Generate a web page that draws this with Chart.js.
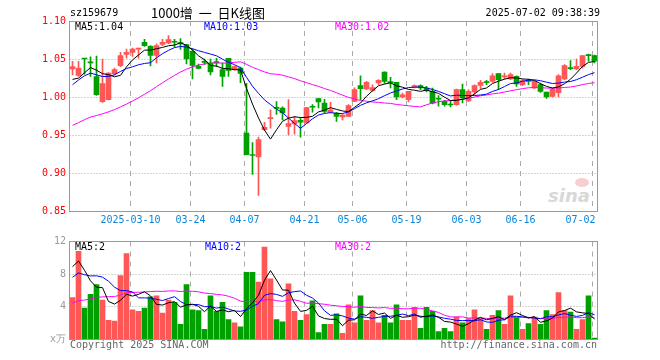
<!DOCTYPE html>
<html><head><meta charset="utf-8">
<script src="https://cdn.jsdelivr.net/npm/chart.js@4.4.1/dist/chart.umd.min.js"></script>
<style>
html,body{margin:0;padding:0;background:#fff;width:660px;height:360px;overflow:hidden}
#wrap{position:relative;width:660px;height:360px}
canvas{position:absolute;left:0}
#c1{top:0}
#c2{top:232px}
.t{position:absolute;font:10px 'DejaVu Sans Mono',monospace;line-height:12px;white-space:pre}
</style></head><body>
<div id="wrap">
<div class="t" style="left:548px;top:186px;font:italic bold 18px 'DejaVu Sans',sans-serif;color:#d8d8d8;line-height:20px">sina</div>
<div style="position:absolute;left:575px;top:178px;width:14px;height:9px;border-radius:50%;background:#f6d0d0"></div>
<canvas id="c1" width="660" height="232"></canvas>
<canvas id="c2" width="660" height="128"></canvas>
<div class="t" style="left:70px;top:7px;color:#000">sz159679</div>
<div class="t" style="left:151px;top:4px;font:13px 'Noto Sans CJK SC',sans-serif;line-height:18px;color:#000">1000增  一  日K线图</div>
<div class="t" style="right:60px;top:7px;color:#000">2025-07-02 09:38:39</div>
<div class="t" style="left:75px;top:21px;color:#000">MA5:1.04</div>
<div class="t" style="left:204px;top:21px;color:#0000ff">MA10:1.03</div>
<div class="t" style="left:335px;top:21px;color:#ff00ff">MA30:1.02</div>
<div class="t" style="left:75px;top:241px;color:#000">MA5:2</div>
<div class="t" style="left:205px;top:241px;color:#0000ff">MA10:2</div>
<div class="t" style="left:335px;top:241px;color:#ff00ff">MA30:2</div>
<div class="t" style="left:70px;top:339px;color:#666">Copyright 2025 SINA.COM</div>
<div class="t" style="right:63px;top:339px;color:#666">http://finance.sina.com.cn</div>
</div>
<script>
// ---- data ----
const dates = ['02-24','02-25','02-26','02-27','02-28',
 '03-03','03-04','03-05','03-06','03-07',
 '03-10','03-11','03-12','03-13','03-14',
 '03-17','03-18','03-19','03-20','03-21',
 '03-24','03-25','03-26','03-27','03-28',
 '03-31','04-01','04-02','04-03',
 '04-07','04-08','04-09','04-10','04-11',
 '04-14','04-15','04-16','04-17','04-18',
 '04-21','04-22','04-23','04-24','04-25',
 '04-28','04-29','04-30',
 '05-06','05-07','05-08','05-09',
 '05-12','05-13','05-14','05-15','05-16',
 '05-19','05-20','05-21','05-22','05-23',
 '05-26','05-27','05-28','05-29','05-30',
 '06-03','06-04','06-05','06-06',
 '06-09','06-10','06-11','06-12','06-13',
 '06-16','06-17','06-18','06-19','06-20',
 '06-23','06-24','06-25','06-26','06-27',
 '06-30','07-01','07-02'];
const open = [1.037,1.0285,1.051,1.046,1.027, 0.994,0.9965,1.0307,1.0412,1.0561,
 1.0588,1.063,1.072,1.0667,1.0548, 1.0693,1.0711,1.073,1.0715,1.069,
 1.060,1.0404,1.047,1.045,1.0465, 1.036,1.051,1.036,1.038,
 0.9526,0.924,0.921,0.957,0.9715, 0.986,0.9855,0.9614,0.9645,0.9693,
 0.966,0.987,0.9978,0.992,0.980, 0.9789,0.9737,0.9746,
 0.9943,1.0149,1.0105,1.0088, 1.0184,1.0329,1.0195,1.0193,1.000,
 0.9965,1.0127,1.0149,1.0118,1.0075, 0.9975,0.9943,0.990,0.9899,1.0096,
 0.995,1.0066,1.0153,1.0195, 1.0206,1.0307,1.0263,1.0237,1.0272,
 1.0162,1.021,1.0118,1.0162,1.0066, 1.0009,1.0057,1.0237,1.0375,1.0368,
 1.0404,1.0548,1.0544];
const high = [1.047,1.047,1.051,1.053,1.054, 1.050,1.032,1.038,1.0588,1.063,
 1.0645,1.0645,1.076,1.0675,1.070, 1.076,1.0807,1.076,1.077,1.069,
 1.063,1.0434,1.050,1.050,1.051, 1.045,1.051,1.041,1.0395,
 1.018,0.940,0.9474,0.9667,0.983, 0.994,0.987,0.9965,0.9746,0.972,
 0.9865,0.990,0.998,0.997,0.993, 0.9798,0.9768,0.990,
 1.012,1.028,1.0206,1.016, 1.0228,1.033,1.026,1.0193,1.005,
 1.0075,1.016,1.016,1.014,1.0118, 1.002,0.9956,0.9956,1.0105,1.017,
 1.0096,1.016,1.022,1.022, 1.0307,1.0307,1.0316,1.0316,1.028,
 1.0228,1.0237,1.021,1.0184,1.0066, 1.0118,1.0294,1.0425,1.048,1.050,
 1.0544,1.0566,1.055];
const low = [1.029,1.027,1.030,1.027,1.002, 0.993,0.996,1.029,1.040,1.051,
 1.0535,1.051,1.0667,1.041,1.0447, 1.0675,1.0702,1.066,1.0627,1.0435,
 1.0237,1.0368,1.0425,1.029,1.040, 1.014,1.027,1.035,1.019,
 0.924,0.898,0.8706,0.956,0.959, 0.977,0.970,0.950,0.951,0.947,
 0.9655,0.980,0.9855,0.979,0.979, 0.968,0.970,0.9746,
 0.9939,0.9965,1.0096,1.0075, 1.0162,1.018,1.012,0.9965,0.9987,
 0.9934,1.0118,1.0096,1.0066,0.991, 0.988,0.988,0.9868,0.989,0.9921,
 0.9943,1.0035,1.0114,1.0162, 1.0193,1.0096,1.0237,1.0228,1.014,
 1.015,1.0162,1.011,1.006,0.998, 1.000,1.000,1.0228,1.036,1.036,
 1.038,1.047,1.045];
const close = [1.040,1.038,1.050,1.045,1.003, 1.0175,1.0316,1.036,1.0544,1.0588,
 1.063,1.0645,1.0675,1.0548,1.0675, 1.072,1.0754,1.072,1.070,1.050,
 1.0417,1.0377,1.0456,1.033,1.045, 1.027,1.035,1.040,1.031,
 0.9241,0.923,0.944,0.960,0.972, 0.985,0.979,0.9649,0.969,0.967,
 0.986,0.9865,0.9934,0.981,0.983, 0.9746,0.9763,0.9886,
 1.0096,1.011,1.0193,1.0123, 1.0219,1.0206,1.019,1.000,1.003,
 1.0075,1.0149,1.0118,1.0083,0.992, 0.997,0.9899,0.9895,1.0096,0.9987,
 1.0075,1.0149,1.0193,1.019, 1.028,1.0228,1.028,1.0294,1.0171,
 1.0215,1.0204,1.0206,1.0075,1.000, 1.0105,1.028,1.0412,1.0373,1.0404,
 1.0544,1.0544,1.047];
const volume = [5.1,10.8,3.8,5.5,6.7, 4.8,2.3,2.2,7.8,10.5,
 3.6,3.4,3.8,5.2,5.3, 3.2,4.8,4.5,1.8,6.7,
 3.6,3.5,1.2,5.3,3.4, 4.5,2.4,2.0,1.5,
 8.2,8.2,7.0,11.3,7.4, 2.4,2.1,6.8,3.4,2.3,
 3.0,4.7,0.8,1.8,1.8, 3.1,0.7,4.2,
 2.0,5.3,2.3,3.5, 2.0,2.9,2.0,4.2,2.3,
 2.3,3.9,1.3,3.9,3.4, 0.9,1.3,0.9,2.7,2.0,
 2.5,3.6,2.5,1.2, 2.9,3.5,1.8,5.3,2.7,
 1.2,1.9,2.7,1.8,3.5, 3.0,5.7,3.5,3.3,1.2,
 2.4,5.3,0.1];
// closes / volumes of the 29 sessions before the visible window (estimated from where the MA lines start)
const priorClose = [0.930,0.935,0.940,0.945,0.950,0.952,0.948,0.945,0.950,0.945,
 0.935,0.925,0.915,0.910,0.920,0.925,0.930,0.935,0.940,0.945,
 0.975,0.995,1.010,1.025,1.040, 1.030,1.015,1.010,1.021];
const priorVolume = [1.2,1.5,1.8,1.4,2.0,1.6,1.9,2.2,1.8,
 2.5,3.0,2.8,3.5,4.2,3.8,3.2,4.0,4.5,4.3,4.8,
 5.5,6.0,7.0,6.5,6.5, 7.3,9.5,12.0,10.6];
const xTickLabels = [['03-10','2025-03-10'],['03-24','03-24'],['04-07','04-07'],['04-21','04-21'],
 ['05-06','05-06'],['05-19','05-19'],['06-03','06-03'],['06-16','06-16'],['07-02','07-02    ']];
const priceTicks = [0.85,0.90,0.95,1.00,1.05,1.10];
const volTicks = [0,4,8,12];

// ---- derived ----
function movingAvg(src, prior, n){
  const all = prior.concat(src);
  return src.map((_, i) => { const j = i + prior.length; let s = 0; for (let k = j - n + 1; k <= j; k++) s += all[k]; return s / n; });
}
const RED = '#ff5656', GREEN = '#00a000';
const colors = open.map((o, i) => close[i] >= o ? RED : GREEN);
const tickMap = new Map(xTickLabels);
const tickIdx = xTickLabels.map(t => dates.indexOf(t[0]));

const framePlugin = {
  id: 'frame',
  beforeDatasetsDraw(chart, args, opts){
    const {ctx, chartArea: a, scales: {x, y}} = chart;
    ctx.save();
    ctx.lineWidth = 1; ctx.strokeStyle = '#aaaaaa';
    ctx.setLineDash([1, 2]);
    opts.hLines.forEach(v => { const py = Math.floor(y.getPixelForValue(v)) + 0.5; ctx.beginPath(); ctx.moveTo(a.left, py); ctx.lineTo(a.right, py); ctx.stroke(); });
    ctx.setLineDash([5, 5]);
    tickIdx.forEach(i => { const px = Math.floor(x.getPixelForValue(i)) - 2 + 0.5; ctx.beginPath(); ctx.moveTo(px, a.top); ctx.lineTo(px, a.bottom); ctx.stroke(); });
    ctx.restore();
  },
  afterDatasetsDraw(chart){
    const {ctx, chartArea: a} = chart;
    ctx.save(); ctx.lineWidth = 1; ctx.strokeStyle = '#999999'; ctx.setLineDash([]);
    const l = Math.floor(a.left) + 0.5, r = Math.floor(a.right) + 0.5, t = Math.floor(a.top) + 0.5, b = Math.floor(a.bottom) + 0.5;
    ctx.strokeRect(l, t, r - l, b - t);
    ctx.restore();
  }
};

Chart.defaults.font.family = "'DejaVu Sans Mono', monospace";
Chart.defaults.font.size = 10;
const common = {
  responsive: false, animation: false, devicePixelRatio: 1,
  plugins: { legend: { display: false }, tooltip: { enabled: false } },
};
function lineDs(data, color){ return { type: 'line', data, borderColor: color, borderWidth: 1, pointRadius: 0, tension: 0, fill: false, order: 0 }; }

new Chart(document.getElementById('c1'), {
  type: 'bar',
  data: { labels: dates, datasets: [
    lineDs(movingAvg(close, priorClose, 5), '#000000'),
    lineDs(movingAvg(close, priorClose, 10), '#0000ff'),
    lineDs(movingAvg(close, priorClose, 30), '#ff00ff'),
    { data: open.map((o, i) => [o, close[i]]), backgroundColor: colors, barThickness: 5, minBarLength: 1, grouped: false, order: 2, borderWidth: 0 },
    { data: low.map((l, i) => [l, high[i]]), backgroundColor: colors, barThickness: 1, grouped: false, order: 3, borderWidth: 0 },
  ]},
  options: Object.assign({}, common, {
    layout: { padding: { left: 0, right: 62.5, top: 21, bottom: 0 } },
    plugins: Object.assign({}, common.plugins, { frame: { hLines: [0.90, 0.95, 1.00, 1.05] } }),
    scales: {
      x: { offset: true, grid: { display: false, drawTicks: false }, border: { display: false },
        afterFit: s => { s.height = 21; },
        ticks: { autoSkip: false, maxRotation: 0, minRotation: 0, padding: 3, labelOffset: -2, color: '#0b84d9',
          callback: function(v){ const d = this.getLabelForValue(v); return tickMap.has(d) ? tickMap.get(d) : ''; } } },
      y: { min: priceTicks[0], max: priceTicks[priceTicks.length - 1], grid: { display: false, drawTicks: false }, border: { display: false },
        afterFit: s => { s.width = 69.5; },
        afterBuildTicks: s => { s.ticks = priceTicks.map(v => ({ value: v })); },
        ticks: { padding: 3.5, color: '#ff0000', autoSkip: false, callback: v => Number(v).toFixed(2) } }
    }
  }),
  plugins: [framePlugin]
});

new Chart(document.getElementById('c2'), {
  type: 'bar',
  data: { labels: dates, datasets: [
    lineDs(movingAvg(volume, priorVolume, 5), '#000000'),
    lineDs(movingAvg(volume, priorVolume, 10), '#0000ff'),
    lineDs(movingAvg(volume, priorVolume, 30), '#ff00ff'),
    { data: volume, backgroundColor: colors, barThickness: 5, grouped: false, order: 2, borderWidth: 0 },
  ]},
  options: Object.assign({}, common, {
    layout: { padding: { left: 0, right: 62.5, top: 8.5, bottom: 21 } },
    plugins: Object.assign({}, common.plugins, { frame: { hLines: [4, 8] } }),
    scales: {
      x: { display: false, offset: true },
      y: { min: 0, max: 12, grid: { display: false, drawTicks: false }, border: { display: false },
        afterFit: s => { s.width = 69.5; },
        afterBuildTicks: s => { s.ticks = volTicks.map(v => ({ value: v })); },
        ticks: { padding: 3.5, color: '#999999', autoSkip: false, callback: v => v === 0 ? 'x万' : String(v) } }
    }
  }),
  plugins: [framePlugin]
});
</script>
</body></html>
